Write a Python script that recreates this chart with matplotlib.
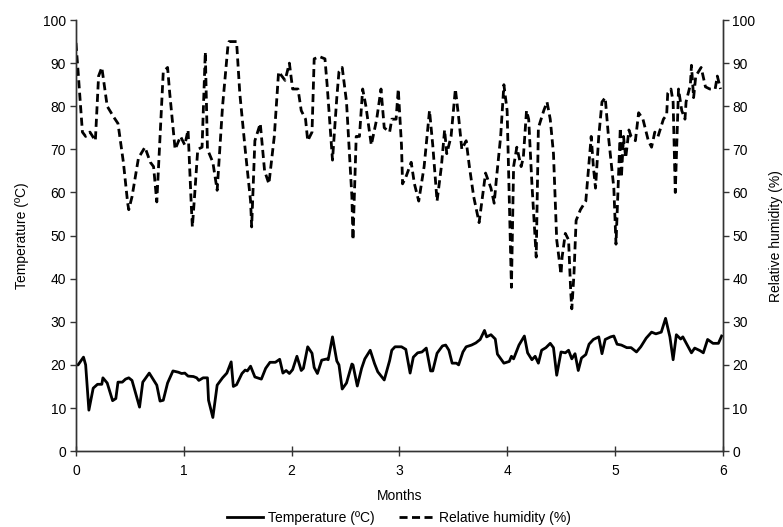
import matplotlib
matplotlib.use("Agg")
import matplotlib.pyplot as plt

plt.rcParams['font.family'] = ['Liberation Sans', 'DejaVu Sans']

# Relative humidity (%) - x in months
rh_months = [0.00, 0.02, 0.06, 0.09, 0.13, 0.18, 0.21, 0.24, 0.29, 0.35, 0.39, 0.44, 0.48, 0.49,
             0.52, 0.58, 0.64, 0.69, 0.72, 0.75, 0.78, 0.81, 0.85, 0.87, 0.92, 0.97, 1.01, 1.04,
             1.07, 1.08, 1.10, 1.13, 1.17, 1.20, 1.22, 1.27, 1.31, 1.36, 1.41, 1.42, 1.49, 1.52,
             1.57, 1.62, 1.63, 1.66, 1.71, 1.75, 1.79, 1.84, 1.88, 1.94, 1.98, 2.01, 2.06, 2.09,
             2.13, 2.15, 2.19, 2.21, 2.26, 2.31, 2.33, 2.37, 2.38, 2.42, 2.44, 2.47, 2.51, 2.56,
             2.57, 2.60, 2.63, 2.66, 2.69, 2.74, 2.79, 2.83, 2.86, 2.91, 2.93, 2.97, 2.99, 3.02,
             3.03, 3.06, 3.11, 3.14, 3.18, 3.23, 3.28, 3.31, 3.34, 3.35, 3.39, 3.42, 3.44, 3.48,
             3.52, 3.55, 3.58, 3.62, 3.65, 3.69, 3.74, 3.80, 3.85, 3.88, 3.90, 3.94, 3.97, 4.00,
             4.04, 4.06, 4.09, 4.13, 4.15, 4.18, 4.20, 4.23, 4.27, 4.29, 4.34, 4.37, 4.40, 4.43,
             4.46, 4.50, 4.51, 4.54, 4.57, 4.59, 4.60, 4.62, 4.64, 4.68, 4.73, 4.76, 4.78, 4.80,
             4.82, 4.85, 4.88, 4.91, 4.94, 4.99, 5.01, 5.05, 5.06, 5.08, 5.10, 5.13, 5.15, 5.19,
             5.22, 5.26, 5.31, 5.34, 5.37, 5.40, 5.45, 5.48, 5.49, 5.52, 5.54, 5.56, 5.59, 5.62,
             5.65, 5.66, 5.70, 5.71, 5.73, 5.75, 5.80, 5.84, 5.88, 5.93, 5.95, 5.98]
rh_values = [94.7, 88, 74, 73, 74, 72, 87, 89, 80, 77.5, 76, 67, 57.5, 56,
             59, 68, 70.5, 67, 66, 57.8, 73, 88, 89, 83, 70, 73, 71, 74.5,
             57, 52, 59, 70, 70.5, 92.6, 70, 67, 60.5, 80, 94, 95, 95, 83,
             70, 58, 52, 72, 76, 65, 62, 73, 88, 86, 90, 84, 84, 79,
             77, 72, 74, 91, 91.5, 91, 85, 71, 67.5, 82, 88, 89, 81, 59,
             49, 73, 73, 84, 80, 71, 77, 84, 75, 74, 77, 77, 84, 71,
             62, 63.5, 67, 62, 58, 66, 79, 71, 61, 58, 66, 74.5, 69, 73,
             84, 77.5, 70, 72, 66, 59, 53, 64.5, 61, 57.5, 63, 73, 85, 79,
             38, 66, 70.5, 66, 68, 79, 77, 62, 45, 75, 79, 81, 77, 69,
             49, 41, 45, 50.5, 49, 37, 33, 41, 53.5, 56, 58, 67, 73, 66,
             61, 73, 81, 82, 73, 61, 48, 75, 63.5, 73, 68, 74.5, 73, 72,
             78.5, 77, 72, 70.5, 74, 73, 77, 78, 83, 84, 81, 60, 84, 79,
             77, 81, 85, 89.5, 82, 87, 89, 84.5, 84, 84, 87, 84]

# Temperature (ºC) - x in months
t_months = [0.00, 0.02, 0.07, 0.09, 0.12, 0.16, 0.20, 0.24, 0.25, 0.29, 0.34, 0.37, 0.39, 0.43,
            0.46, 0.49, 0.52, 0.59, 0.62, 0.68, 0.75, 0.78, 0.81, 0.85, 0.90, 0.95, 0.98, 1.01,
            1.04, 1.09, 1.12, 1.14, 1.18, 1.22, 1.23, 1.27, 1.31, 1.36, 1.40, 1.44, 1.46, 1.49,
            1.54, 1.57, 1.59, 1.62, 1.66, 1.72, 1.76, 1.80, 1.85, 1.89, 1.92, 1.95, 1.98, 2.01,
            2.05, 2.09, 2.11, 2.15, 2.19, 2.21, 2.24, 2.28, 2.33, 2.34, 2.38, 2.42, 2.44, 2.47,
            2.51, 2.56, 2.57, 2.61, 2.65, 2.68, 2.73, 2.77, 2.80, 2.86, 2.91, 2.93, 2.96, 3.02,
            3.06, 3.10, 3.13, 3.17, 3.21, 3.25, 3.29, 3.31, 3.35, 3.40, 3.43, 3.46, 3.49, 3.53,
            3.55, 3.59, 3.62, 3.67, 3.71, 3.75, 3.79, 3.81, 3.85, 3.89, 3.91, 3.97, 4.02, 4.04,
            4.06, 4.11, 4.16, 4.19, 4.23, 4.26, 4.29, 4.32, 4.36, 4.40, 4.43, 4.46, 4.50, 4.54,
            4.57, 4.60, 4.63, 4.66, 4.69, 4.73, 4.76, 4.80, 4.85, 4.88, 4.91, 4.96, 4.99, 5.02,
            5.06, 5.11, 5.15, 5.20, 5.24, 5.29, 5.34, 5.38, 5.43, 5.47, 5.51, 5.54, 5.57, 5.61,
            5.63, 5.68, 5.71, 5.74, 5.79, 5.82, 5.86, 5.91, 5.96, 5.99]
t_values = [20, 20, 21.8, 20, 9.5, 14.6, 15.5, 15.5, 17, 15.8, 11.7, 12.2, 16, 16,
            16.7, 17, 16.4, 10.2, 16, 18.1, 15.3, 11.6, 11.8, 15.8, 18.6, 18.3, 18, 18.1,
            17.4, 17.3, 17, 16.4, 17, 17, 11.8, 7.8, 15.3, 17, 18.1, 20.7, 15, 15.4,
            18, 18.8, 18.6, 19.7, 17.2, 16.7, 19.2, 20.6, 20.6, 21.3, 18.1, 18.7, 18, 18.9,
            22, 18.7, 19.2, 24.2, 22.7, 19.4, 18, 21.1, 21.4, 21.2, 26.5, 20.9, 20, 14.4,
            15.8, 20.2, 20, 15.1, 19.2, 21.4, 23.4, 20.3, 18.4, 16.5, 21, 23.4, 24.2, 24.2,
            23.6, 18.1, 21.8, 22.8, 23, 23.9, 18.6, 18.6, 22.7, 24.4, 24.6, 23.4, 20.4, 20.4,
            20, 23, 24.2, 24.6, 25.1, 25.9, 28, 26.5, 27, 26, 22.5, 20.4, 20.8, 22,
            21.4, 24.6, 26.7, 22.8, 21.2, 22, 20.4, 23.4, 24, 25, 24, 17.6, 23, 22.8,
            23.4, 21.4, 22.6, 18.7, 21.6, 22.4, 24.8, 25.9, 26.5, 22.6, 25.9, 26.5, 26.7, 24.8,
            24.6, 24, 24, 23, 24.2, 26.2, 27.6, 27.2, 27.6, 30.8, 26.5, 21.2, 27, 26,
            26.5, 24.2, 22.8, 23.9, 23.3, 22.8, 25.9, 25, 25, 26.7]

x_ticks = [0, 1, 2, 3, 4, 5, 6]
y_ticks = [0, 10, 20, 30, 40, 50, 60, 70, 80, 90, 100]

fig = plt.figure(figsize=(7.83, 5.27), dpi=100)
ax = fig.add_axes([0.097, 0.144, 0.826, 0.818])
ax2 = ax.twinx()

l1, = ax.plot(t_months, t_values, color='black', lw=2.0, solid_joinstyle='round',
              label='Temperature (ºC)')
l2, = ax2.plot(rh_months, rh_values, color='black', lw=2.0,
               linestyle=(0, (2.9, 1.6)), label='Relative humidity (%)')

for a in (ax, ax2):
    a.set_xlim(0, 6)
    a.set_ylim(0, 100)
    a.set_yticks(y_ticks)
    a.spines['top'].set_visible(False)
    for s in ('left', 'right', 'bottom'):
        a.spines[s].set_linewidth(1.0)
        a.spines[s].set_color('#333333')

ax.set_xticks(x_ticks)
ax.tick_params(axis='x', direction='inout', length=7, width=1, labelsize=10, pad=6, color='#333333')
ax.tick_params(axis='y', direction='out', length=4, width=1, labelsize=10, pad=3, color='#333333')
ax2.tick_params(axis='y', direction='out', length=4, width=1, labelsize=10, pad=3, color='#333333')

ax.set_xlabel('Months', fontsize=10, labelpad=8)
ax.set_ylabel('Temperature (ºC)', fontsize=10, labelpad=10)
ax2.set_ylabel('Relative humidity (%)', fontsize=10, labelpad=10, rotation=90)

fig.legend(handles=[l1, l2], loc='lower center', ncol=2, frameon=False,
           fontsize=10, bbox_to_anchor=(0.51, -0.02), handlelength=2.6,
           columnspacing=1.8, handletextpad=0.3)

fig.savefig('out.png', dpi=100)
